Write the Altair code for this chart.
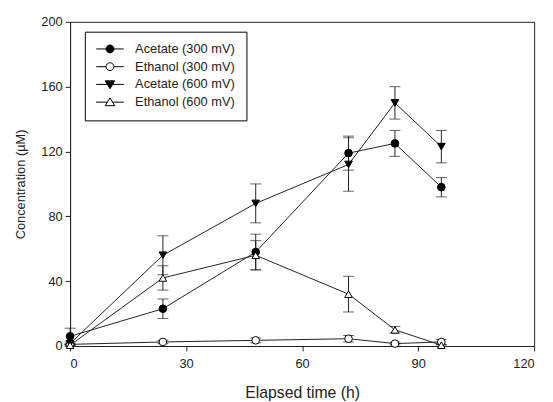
import altair as alt
import pandas as pd

# ---- data ----
times = [0, 24, 48, 72, 84, 96]
series_names = ["Acetate (300 mV)", "Ethanol (300 mV)", "Acetate (600 mV)", "Ethanol (600 mV)"]
acetate_300 = [6, 23, 58, 119, 125, 98]
acetate_300_err = [5, 6, 11, 10.5, 8, 6]
ethanol_300 = [1, 2.5, 3.5, 4.5, 1.5, 2.5]
ethanol_300_err = [0.5, 1, 1.5, 2, 0.8, 1.5]
acetate_600 = [1.5, 56, 88, 112, 150, 123]
acetate_600_err = [1, 12, 12, 16.5, 10, 10]
ethanol_600 = [0.5, 42, 56, 32, 10, 0.5]
ethanol_600_err = [0.5, 7.5, 9, 11, 2, 0.5]
x_ticks = [0, 30, 60, 90, 120]
y_ticks = [0, 40, 80, 120, 160, 200]

values = [acetate_300, ethanol_300, acetate_600, ethanol_600]
errors = [acetate_300_err, ethanol_300_err, acetate_600_err, ethanol_600_err]

rows = []
for name, vals, errs in zip(series_names, values, errors):
    for t, v, e in zip(times, vals, errs):
        rows.append({"series": name, "t": t, "c": v, "lo": max(v - e, 0), "hi": v + e})
df = pd.DataFrame(rows)

FONT = "Liberation Sans"
INK = "#222222"

x = alt.X("t:Q", scale=alt.Scale(domain=[0, 120], nice=False),
          axis=alt.Axis(values=x_ticks, title="Elapsed time (h)", titlePadding=14,
                        labelPadding=7, titleFontSize=16))
y = alt.Y("c:Q", scale=alt.Scale(domain=[0, 200], nice=False),
          axis=alt.Axis(values=y_ticks, title="Concentration (\u00b5M)", titlePadding=14,
                        labelPadding=3, titleFontSize=13))

base = alt.Chart(df)

err_rule = base.mark_rule(color=INK, strokeWidth=1).encode(
    x="t:Q", y=alt.Y("lo:Q"), y2="hi:Q", detail="series:N")
cap_lo = base.mark_tick(color=INK, size=11, thickness=1, orient="horizontal").encode(
    x="t:Q", y="lo:Q", detail="series:N")
cap_hi = base.mark_tick(color=INK, size=11, thickness=1, orient="horizontal").encode(
    x="t:Q", y="hi:Q", detail="series:N")

lines = base.mark_line(color=INK, strokeWidth=1).encode(
    x=x, y=y, detail="series:N", order="t:Q")

plot_shapes = ["circle", "circle", "triangle-down", "triangle-up"]
fills = ["black", "white", "black", "white"]
strokes = ["black", "black", "black", "black"]

points = base.mark_point(filled=True, size=60, stroke="black", strokeWidth=1, opacity=1).encode(
    x="t:Q", y="c:Q",
    shape=alt.Shape("series:N", scale=alt.Scale(domain=series_names, range=plot_shapes), legend=None),
    fill=alt.Fill("series:N", scale=alt.Scale(domain=series_names, range=fills), legend=None),
)

# legend-only layer (no data rows), symbols show a line through the marker
legend_paths = [
    "M-1.5,0H5.5M3,0A1,1,0,1,1,1,0A1,1,0,1,1,3,0Z",
    "M-1.5,0H1M3,0H5.5M3,0A1,1,0,1,1,1,0A1,1,0,1,1,3,0Z",
    "M-1.5,0H5.5M0.8,-0.9L3.2,-0.9L2,1.1Z",
    "M-1.5,0H1.4M2.6,0H5.5M0.8,0.9L3.2,0.9L2,-1.1Z",
]
legend_layer = base.transform_filter("false").mark_point(
    filled=True, size=64, strokeWidth=1, opacity=1).encode(
    x="t:Q", y="c:Q",
    shape=alt.Shape("series:N", scale=alt.Scale(domain=series_names, range=legend_paths),
                    legend=alt.Legend(title=None, orient="none", legendX=15, legendY=10,
                                      strokeColor="black", padding=11, rowPadding=4,
                                      labelOffset=27, labelFontSize=13, labelFont=FONT,
                                      labelColor=INK, symbolStrokeWidth=1, symbolSize=64)),
    fill=alt.Fill("series:N", scale=alt.Scale(domain=series_names, range=fills)),
    stroke=alt.Stroke("series:N", scale=alt.Scale(domain=series_names, range=strokes)),
)

chart = alt.layer(err_rule, cap_lo, cap_hi, lines, points, legend_layer).resolve_scale(
    shape="independent", fill="independent", stroke="independent"
).properties(
    width=471, height=329,
    autosize=alt.AutoSizeParams(type="none"),
    padding={"left": 63, "top": 11, "right": 11, "bottom": 70},
).configure_view(
    stroke=INK, strokeWidth=1
).configure_axis(
    domainColor=INK, tickColor=INK, tickSize=5, labelColor=INK, titleColor=INK,
    labelFont=FONT, titleFont=FONT, labelFontSize=13,
    titleFontWeight="normal", grid=False
)

chart.save("out.html", embed_options={"renderer": "svg", "actions": False})
